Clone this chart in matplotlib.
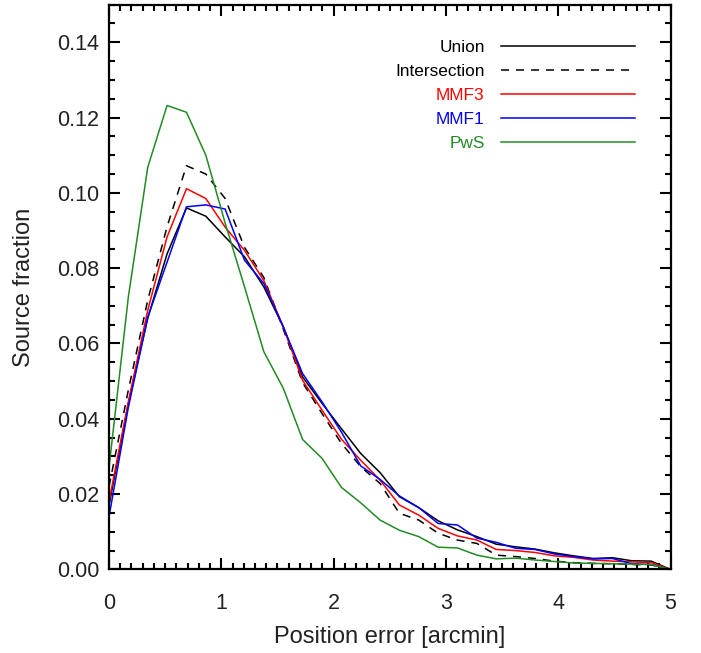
import matplotlib
matplotlib.use("Agg")
import matplotlib.pyplot as plt
from matplotlib.ticker import MultipleLocator

# bin positions [arcmin]
pos_err = [0.0, 0.172, 0.345, 0.517, 0.690, 0.862, 1.034, 1.207, 1.379, 1.552,
	1.724, 1.897, 2.069, 2.241, 2.414, 2.586, 2.759, 2.931, 3.103, 3.276,
	3.448, 3.621, 3.793, 3.966, 4.138, 4.310, 4.483, 4.655, 4.828, 5.0]

union = [0.017, 0.044, 0.0667, 0.0838, 0.0960, 0.0938, 0.0883, 0.083, 0.075, 0.0644,
	0.0511, 0.0441, 0.0374, 0.0308, 0.0257, 0.0193, 0.0164, 0.0129, 0.0105, 0.0087,
	0.0067, 0.0060, 0.0054, 0.0044, 0.0036, 0.0029, 0.0031, 0.0023, 0.0022, 0.0]
intersection = [0.022, 0.0476, 0.0715, 0.091, 0.1072, 0.105, 0.0985, 0.0855, 0.0775, 0.0638,
	0.0496, 0.0414, 0.0335, 0.0273, 0.0228, 0.0149, 0.0131, 0.0096, 0.0078, 0.0069,
	0.0038, 0.0034, 0.0029, 0.0022, 0.0018, 0.0016, 0.0015, 0.0013, 0.0012, 0.0]
mmf3 = [0.018, 0.0445, 0.0688, 0.0883, 0.1011, 0.0985, 0.0909, 0.0847, 0.0767, 0.0644,
	0.0502, 0.0423, 0.0346, 0.029, 0.0237, 0.0171, 0.0144, 0.0109, 0.0089, 0.0078,
	0.0053, 0.005, 0.0045, 0.0036, 0.0032, 0.0025, 0.0022, 0.002, 0.0018, 0.0]
mmf1 = [0.014, 0.043, 0.067, 0.0816, 0.0963, 0.0968, 0.0957, 0.0821, 0.0759, 0.0644,
	0.052, 0.0445, 0.0365, 0.0275, 0.0239, 0.0195, 0.0164, 0.0122, 0.0118, 0.0083,
	0.0072, 0.0056, 0.0053, 0.0041, 0.0034, 0.0028, 0.0029, 0.0015, 0.0013, 0.0]
pws = [0.027, 0.0723, 0.1068, 0.1232, 0.1214, 0.110, 0.092, 0.075, 0.0578, 0.0481,
	0.0345, 0.0295, 0.0218, 0.0177, 0.0131, 0.0104, 0.0087, 0.0059, 0.0057, 0.0038,
	0.0028, 0.003, 0.0025, 0.0021, 0.0017, 0.0016, 0.0015, 0.0014, 0.0013, 0.0]

plt.rcParams["font.family"] = ["Liberation Sans", "DejaVu Sans"]
plt.rcParams["lines.scale_dashes"] = False

fig = plt.figure(figsize=(7.01, 6.53), dpi=100)
ax = fig.add_axes([0.1555, 0.128, 0.801, 0.865])

lw = 1.1
ax.plot(pos_err, union, color="black", lw=lw, label="Union")
ax.plot(pos_err, intersection, color="black", lw=lw, dashes=(5.8, 5.0), label="Intersection")
ax.plot(pos_err, mmf3, color="#ff0000", lw=lw, label="MMF3")
ax.plot(pos_err, mmf1, color="#0000ff", lw=lw, label="MMF1")
ax.plot(pos_err, pws, color="#228b22", lw=lw, label="PwS")

ax.set_xlim(0, 5)
ax.set_ylim(0, 0.15)
ax.xaxis.set_major_locator(MultipleLocator(1))
ax.xaxis.set_minor_locator(MultipleLocator(0.1))
ax.yaxis.set_major_locator(MultipleLocator(0.02))
ax.yaxis.set_minor_locator(MultipleLocator(0.005))
ax.yaxis.set_major_formatter(lambda v, p: f"{v:.2f}")

for s in ax.spines.values():
	s.set_linewidth(1.6)
ax.tick_params(which="both", direction="in", top=True, right=True, width=1.5, colors="black")
ax.tick_params(which="major", length=8)
ax.tick_params(which="minor", length=4)
ax.tick_params(axis="x", which="major", pad=17, labelsize=15.5, labelcolor="#222222")
ax.tick_params(axis="y", which="major", pad=7, labelsize=15.5, labelcolor="#222222")

ax.set_xlabel("Position error [arcmin]", fontsize=17, color="#222222", va="center")
ax.set_ylabel("Source fraction", fontsize=17, color="#222222", va="center")
ax.xaxis.set_label_coords(0.5, -0.1197)
ax.yaxis.set_label_coords(-0.151, 0.5)

leg = ax.legend(loc="upper right", bbox_to_anchor=(0.9368, 0.938), frameon=False,
	markerfirst=False, labelcolor="linecolor", fontsize=12.4, handlelength=7.8,
	handletextpad=0.93, labelspacing=0.52, borderpad=0, borderaxespad=0)

fig.savefig("out.png", dpi=100)
